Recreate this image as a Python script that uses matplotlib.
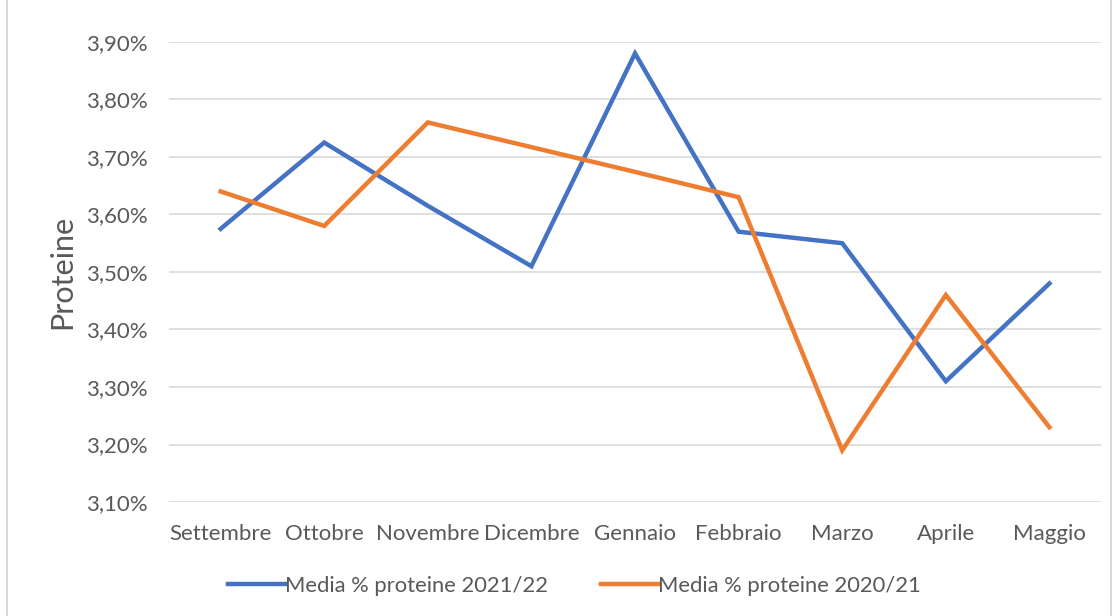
import matplotlib.pyplot as plt
from matplotlib.ticker import FuncFormatter
from matplotlib.patches import Rectangle

# ── Data ──────────────────────────────────────────────────────────────────────

MONTHS = ["Settembre", "Ottobre", "Novembre", "Dicembre", "Gennaio",
          "Febbraio", "Marzo", "Aprile", "Maggio"]
PROT_2122 = [3.575, 3.725, 3.615, 3.51, 3.88, 3.57, 3.55, 3.31, 3.48]
PROT_2021 = [3.64, 3.58, 3.76, 3.717, 3.674, 3.63, 3.19, 3.46, 3.23]
Y_TICKS = [3.1, 3.2, 3.3, 3.4, 3.5, 3.6, 3.7, 3.8, 3.9]

BLUE   = "#4472C4"
ORANGE = "#ED7D31"
GREY   = "#595959"

plt.rcParams["font.family"] = ["Lato", "DejaVu Sans"]

fig = plt.figure(figsize=(11.18, 6.16), dpi=100)
ax = fig.add_axes([0.151, 0.185, 0.834, 0.747])

x = range(len(MONTHS))
ax.plot(x, PROT_2122, color=BLUE, lw=3.2, label="Media % proteine 2021/22",
        solid_joinstyle="miter", zorder=3)
ax.plot(x, PROT_2021, color=ORANGE, lw=3.2, label="Media % proteine 2020/21",
        solid_joinstyle="miter", zorder=3)

ax.set_xlim(-0.5, len(MONTHS) - 0.5)
ax.set_ylim(3.1, 3.9)
ax.set_yticks(Y_TICKS)
ax.yaxis.set_major_formatter(FuncFormatter(lambda v, p: f"{v:.2f}%".replace(".", ",")))
ax.set_xticks(list(x))
ax.set_xticklabels(MONTHS)
ax.grid(axis="y", color="#D9D9D9", lw=1.2, zorder=0)
ax.tick_params(length=0, labelsize=16, colors=GREY)
ax.tick_params(axis="y", pad=15)
ax.tick_params(axis="x", pad=16)
for s in ax.spines.values():
    s.set_visible(False)

ax.set_ylabel("Proteine", fontsize=22, color=GREY, labelpad=7)

leg = fig.legend(loc="center", bbox_to_anchor=(0.514, 0.049), ncol=2, frameon=False,
                 fontsize=15.8, handlelength=2.6, handletextpad=0.0,
                 columnspacing=2.4)
for t in leg.get_texts():
    t.set_color(GREY)

fig.patches.append(Rectangle((0.006, -0.01), 0.988, 1.02, transform=fig.transFigure,
                             fill=False, edgecolor="#D9D9D9", lw=1.5))

fig.savefig("out.png", dpi=100)
